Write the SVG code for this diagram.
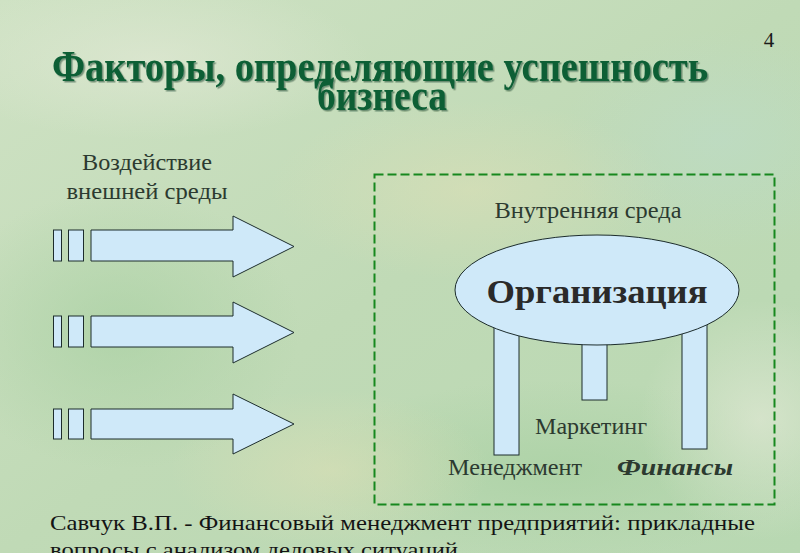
<svg xmlns="http://www.w3.org/2000/svg" width="800" height="553" viewBox="0 0 800 553">
<defs>
<linearGradient id="bg" x1="0" y1="0" x2="1" y2="1">
<stop offset="0" stop-color="#cfe2c4"/>
<stop offset="0.5" stop-color="#c0dab6"/>
<stop offset="1" stop-color="#b8d8b2"/>
</linearGradient>
<radialGradient id="b1"><stop offset="0" stop-color="#dcdfb6" stop-opacity="0.6"/><stop offset="1" stop-color="#dcdfb6" stop-opacity="0"/></radialGradient>
<radialGradient id="b2"><stop offset="0" stop-color="#a8d0a2" stop-opacity="0.7"/><stop offset="1" stop-color="#a8d0a2" stop-opacity="0"/></radialGradient>
<radialGradient id="b3"><stop offset="0" stop-color="#bcdccc" stop-opacity="0.5"/><stop offset="1" stop-color="#bcdccc" stop-opacity="0"/></radialGradient>
<radialGradient id="b4"><stop offset="0" stop-color="#e0e8d4" stop-opacity="0.7"/><stop offset="1" stop-color="#e0e8d4" stop-opacity="0"/></radialGradient>
<filter id="ds" filterUnits="userSpaceOnUse" x="0" y="0" width="800" height="140">
<feDropShadow dx="1.5" dy="1.5" stdDeviation="0.6" flood-color="#032a14" flood-opacity="0.45"/>
</filter>
<style>
.t{font-family:"Liberation Serif","DejaVu Serif",serif;fill:#2c3a30;font-size:24px}
.ttl{font-family:"Liberation Serif","DejaVu Serif",serif;font-weight:bold;font-size:44px;fill:#0c5f36}
.shape{fill:#cfe9f9;stroke:#1c2c2c;stroke-width:1}
</style>
</defs>
<rect width="800" height="553" fill="url(#bg)"/>
<ellipse cx="470" cy="190" rx="200" ry="90" fill="url(#b1)"/>
<ellipse cx="120" cy="330" rx="180" ry="140" fill="url(#b2)"/>
<ellipse cx="720" cy="140" rx="160" ry="110" fill="url(#b3)"/>
<ellipse cx="150" cy="60" rx="220" ry="80" fill="url(#b4)"/>
<ellipse cx="560" cy="470" rx="260" ry="90" fill="url(#b2)"/>
<ellipse cx="330" cy="470" rx="160" ry="80" fill="url(#b1)"/>
<ellipse cx="760" cy="420" rx="120" ry="120" fill="url(#b4)"/>

<g id="title" filter="url(#ds)">
<text class="ttl" x="380" y="81" text-anchor="middle" textLength="656" lengthAdjust="spacingAndGlyphs">Факторы, определяющие успешность</text>
<text class="ttl" x="382" y="110" text-anchor="middle" textLength="130" lengthAdjust="spacingAndGlyphs">бизнеса</text>
</g>
<g id="page-number"><text x="769" y="47" text-anchor="middle" font-family="Liberation Serif, serif" font-size="21" fill="#1a1a1a">4</text></g>

<g id="external">
<text class="t" x="147" y="170" text-anchor="middle" textLength="130" lengthAdjust="spacingAndGlyphs">Воздействие</text>
<text class="t" x="147" y="199" text-anchor="middle" textLength="161" lengthAdjust="spacingAndGlyphs">внешней среды</text>
</g>

<g id="arrow1">
<rect class="shape" x="53.5" y="230" width="8" height="31"/>
<rect class="shape" x="68.5" y="230" width="15" height="31"/>
<polygon class="shape" points="91,230 233,230 233,216 294,246.5 233,277 233,261 91,261"/>
</g>
<g id="arrow2">
<rect class="shape" x="53.5" y="316" width="8" height="31"/>
<rect class="shape" x="68.5" y="316" width="15" height="31"/>
<polygon class="shape" points="91,316 233,316 233,302 294,332.5 233,363 233,347 91,347"/>
</g>
<g id="arrow3">
<rect class="shape" x="53.5" y="409" width="8" height="30"/>
<rect class="shape" x="68.5" y="409" width="15" height="30"/>
<polygon class="shape" points="91,409 233,409 233,394 294,424 233,454 233,439 91,439"/>
</g>

<g id="internal">
<rect x="374.5" y="174.5" width="400" height="330" fill="none" stroke="#17881e" stroke-width="2" stroke-dasharray="9,4"/>
<text class="t" x="588" y="218" text-anchor="middle" textLength="187" lengthAdjust="spacingAndGlyphs">Внутренняя среда</text>
</g>

<g id="organization">
<rect class="shape" x="494" y="300" width="25" height="155"/>
<rect class="shape" x="582" y="300" width="25" height="100"/>
<rect class="shape" x="682" y="300" width="25" height="149"/>
<ellipse class="shape" cx="597" cy="290" rx="142" ry="55"/>
<text x="597" y="303" text-anchor="middle" font-family="Liberation Serif, serif" font-weight="bold" font-size="34" fill="#2a2a2a" textLength="221" lengthAdjust="spacingAndGlyphs">Организация</text>
</g>
<g id="marketing"><text class="t" x="591" y="434" text-anchor="middle" textLength="112" lengthAdjust="spacingAndGlyphs">Маркетинг</text></g>
<g id="management"><text class="t" x="515" y="475" text-anchor="middle" textLength="134" lengthAdjust="spacingAndGlyphs">Менеджмент</text></g>
<g id="finance"><text class="t" x="675" y="475" text-anchor="middle" font-weight="bold" font-style="italic" textLength="116" lengthAdjust="spacingAndGlyphs">Финансы</text></g>

<g id="source">
<text x="50" y="530" font-family="Liberation Serif, serif" font-size="22" fill="#141414" textLength="705" lengthAdjust="spacingAndGlyphs">Савчук В.П. - Финансовый менеджмент предприятий: прикладные</text>
<text x="50" y="557" font-family="Liberation Serif, serif" font-size="22" fill="#141414" textLength="408" lengthAdjust="spacingAndGlyphs">вопросы с анализом деловых ситуаций</text>
</g>
</svg>
